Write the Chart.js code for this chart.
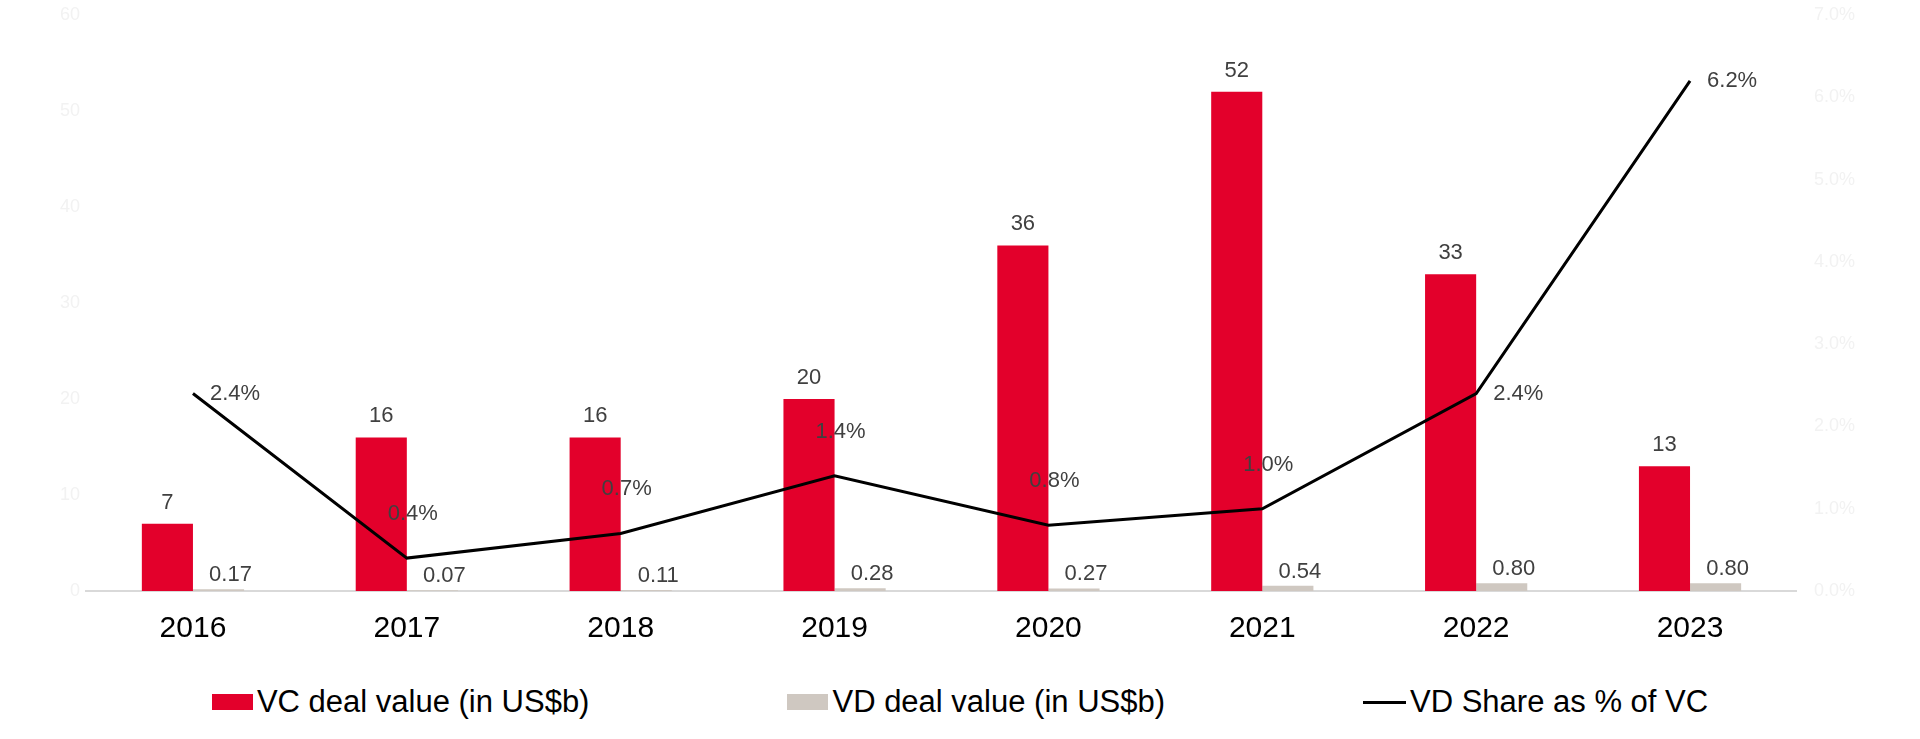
<!DOCTYPE html>
<html>
<head>
<meta charset="utf-8">
<script src="https://cdn.jsdelivr.net/npm/chart.js"></script>
<style>
  html, body { margin: 0; padding: 0; background: #fff; }
  #wrap { position: relative; width: 1920px; height: 670px; }
  #legend {
    position: absolute; top: 670px; left: 0; width: 1920px; height: 64px;
    display: flex; justify-content: center; align-items: center; gap: 198px;
    font-family: 'Liberation Sans', Arial, sans-serif; font-size: 31px; color: #000;
  }
  .item { display: flex; align-items: center; white-space: nowrap; }
  .swatch { width: 41px; height: 16px; margin-right: 4px; }
  .line { width: 43px; height: 3px; margin-right: 4px; }
</style>
</head>
<body>
<div id="wrap"><canvas id="chart1"></canvas></div>
<div id="legend"></div>
<script>
// values
const years = ['2016', '2017', '2018', '2019', '2020', '2021', '2022', '2023'];
const vcDealValue = [7, 16, 16, 20, 36, 52, 33, 13];
const vdDealValue = [0.17, 0.07, 0.11, 0.28, 0.27, 0.54, 0.80, 0.80];
const vdShare = [2.4, 0.4, 0.7, 1.4, 0.8, 1.0, 2.4, 6.2];
// where each share label sits relative to its point
const shareLabelSide = ['right', 'above', 'above', 'above', 'above', 'above', 'right', 'right'];

const FONT = '"Liberation Sans", Arial, sans-serif';
const red = '#e3002b';
const grey = '#cfc8c1';

// draws the numbers next to bars and line points
const valueLabels = {
  id: 'valueLabels',
  afterDatasetsDraw(chart) {
    const ctx = chart.ctx;
    ctx.save();
    ctx.font = '22px ' + FONT;
    ctx.fillStyle = '#404040';
    chart.data.datasets.forEach((ds, i) => {
      const meta = chart.getDatasetMeta(i);
      meta.data.forEach((el, j) => {
        const v = ds.data[j];
        if (ds.type === 'line') {
          ctx.textBaseline = 'middle';
          if (shareLabelSide[j] === 'right') {
            ctx.textAlign = 'left';
            ctx.fillText(v.toFixed(1) + '%', el.x + 17, el.y);
          } else {
            ctx.textAlign = 'center';
            ctx.fillText(v.toFixed(1) + '%', el.x + 6, el.y - 44);
          }
        } else if (i === 0) {
          ctx.textAlign = 'center';
          ctx.textBaseline = 'alphabetic';
          ctx.fillText(String(v), el.x, el.y - 15);
        } else {
          ctx.textAlign = 'center';
          ctx.textBaseline = 'alphabetic';
          ctx.fillText(v.toFixed(2), el.x + 12, el.y - 8);
        }
      });
    });
    ctx.restore();
  }
};

// the side axes should not push the plot area down
function noVerticalPadding(scale) {
  scale.paddingTop = 0;
  scale.paddingBottom = 0;
}

const ctx = document.getElementById('chart1').getContext('2d');
const myChart = new Chart(ctx, {
  type: 'bar',
  data: {
    labels: years,
    datasets: [
      {
        label: 'VC deal value (in US$b)',
        data: vcDealValue,
        backgroundColor: red,
        borderWidth: 0,
        yAxisID: 'y',
        order: 1
      },
      {
        label: 'VD deal value (in US$b)',
        data: vdDealValue,
        backgroundColor: grey,
        borderWidth: 0,
        yAxisID: 'y',
        order: 2
      },
      {
        type: 'line',
        label: 'VD Share as % of VC',
        data: vdShare,
        borderColor: '#000',
        backgroundColor: '#000',
        borderWidth: 3,
        pointRadius: 0,
        tension: 0,
        yAxisID: 'y1',
        order: 0
      }
    ]
  },
  options: {
    responsive: true,
    maintainAspectRatio: false,
    animation: false,
    devicePixelRatio: 1,
    categoryPercentage: 0.478,
    barPercentage: 1,
    layout: {
      padding: { top: 15, left: 54, right: 48, bottom: 3 }
    },
    plugins: {
      legend: { display: false },
      tooltip: { enabled: false }
    },
    scales: {
      x: {
        grid: { display: false, drawTicks: false },
        border: { display: true, color: '#d9d9d9', width: 2 },
        ticks: {
          color: '#000',
          font: { family: FONT, size: 30 },
          padding: 20
        }
      },
      y: {
        position: 'left',
        min: 0,
        max: 60,
        grid: { display: false, drawTicks: false },
        border: { display: false },
        afterFit: noVerticalPadding,
        ticks: {
          stepSize: 10,
          color: '#f2f2f2',
          font: { family: FONT, size: 18 },
          padding: 6
        }
      },
      y1: {
        position: 'right',
        min: 0,
        max: 7,
        grid: { display: false, drawTicks: false },
        border: { display: false },
        afterFit: noVerticalPadding,
        ticks: {
          stepSize: 1,
          color: '#f2f2f2',
          font: { family: FONT, size: 18 },
          padding: 17,
          callback: function(value) {
            return value.toFixed(1) + '%';
          }
        }
      }
    }
  },
  plugins: [valueLabels]
});

// legend underneath, built from the datasets
const legendEl = document.getElementById('legend');
myChart.data.datasets.forEach(ds => {
  const item = document.createElement('div');
  item.className = 'item';
  const mark = document.createElement('span');
  if (ds.type === 'line') {
    mark.className = 'line';
    mark.style.background = ds.borderColor;
  } else {
    mark.className = 'swatch';
    mark.style.background = ds.backgroundColor;
  }
  const txt = document.createElement('span');
  txt.textContent = ds.label;
  item.appendChild(mark);
  item.appendChild(txt);
  legendEl.appendChild(item);
});
</script>
</body>
</html>
